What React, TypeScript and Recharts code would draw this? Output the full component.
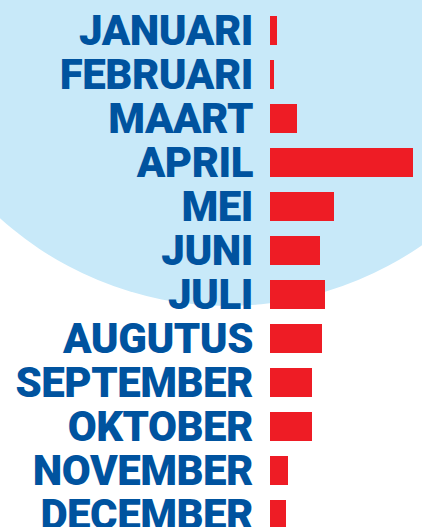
import { BarChart, Bar, XAxis, YAxis } from "recharts";

const months = [
  "JANUARI",
  "FEBRUARI",
  "MAART",
  "APRIL",
  "MEI",
  "JUNI",
  "JULI",
  "AUGUTUS",
  "SEPTEMBER",
  "OKTOBER",
  "NOVEMBER",
  "DECEMBER",
];
const counts = [7, 4, 27, 143, 64, 50, 55, 52, 42, 42, 18, 16];

const data = months.map((month, i) => ({ month, count: counts[i] }));

function MonthTick(props: any) {
  const { x, y, payload } = props;
  return (
    <text
      x={x}
      y={y}
      dy="0.355em"
      textAnchor="end"
      fill="#00539f"
      fontFamily="Roboto, sans-serif"
      fontWeight={900}
      fontSize={42}
      letterSpacing={-0.5}
    >
      {payload.value}
    </text>
  );
}

export default function App() {
  return (
    <div
      style={{
        position: "absolute",
        top: 0,
        left: 0,
        width: 422,
        height: 527,
        overflow: "hidden",
        background: "#fff",
      }}
    >
      {/* background circle */}
      <div
        style={{
          position: "absolute",
          left: -112,
          top: -374,
          width: 680,
          height: 680,
          borderRadius: "50%",
          background: "#c8e9f9",
        }}
      />
      <div style={{ position: "absolute", top: 0, left: 0 }}>
        <BarChart
          width={422}
          height={536}
          data={data}
          layout="vertical"
          margin={{ top: 8, right: 9, bottom: 0, left: 0 }}
        >
          <XAxis type="number" domain={[0, 143]} hide />
          <YAxis
            type="category"
            dataKey="month"
            width={270}
            axisLine={false}
            tickLine={false}
            tickSize={0}
            tickMargin={17}
            interval={0}
            tick={<MonthTick />}
          />
          <Bar dataKey="count" fill="#ee1c25" barSize={29} isAnimationActive={false} />
        </BarChart>
      </div>
    </div>
  );
}
